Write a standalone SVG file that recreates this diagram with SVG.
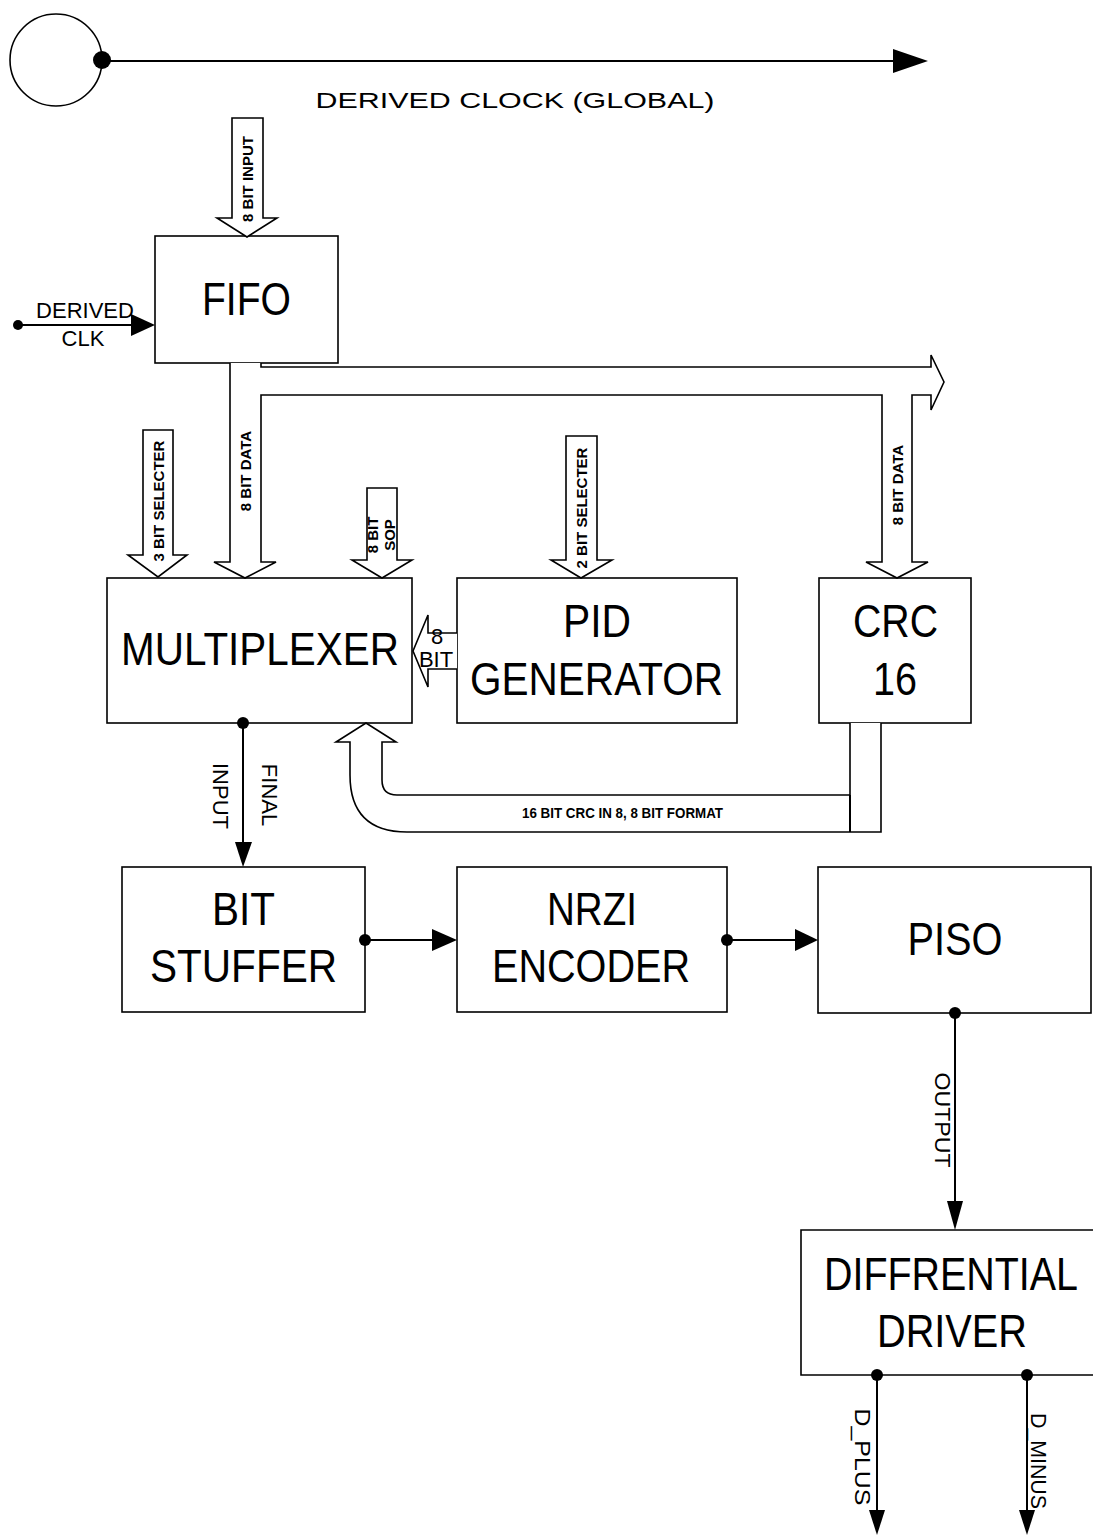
<svg xmlns="http://www.w3.org/2000/svg" width="1093" height="1536" viewBox="0 0 1093 1536">
<style>
.box{fill:#fff;stroke:#000;stroke-width:1.6}
.big{font-family:"Liberation Sans",Arial,sans-serif;font-size:47px;text-anchor:middle;fill:#000}
.sm{font-family:"Liberation Sans",Arial,sans-serif;font-size:15px;font-weight:bold;text-anchor:middle;fill:#000}
.md{font-family:"Liberation Sans",Arial,sans-serif;font-size:22px;text-anchor:middle;fill:#000}
.wire{fill:none;stroke:#000;stroke-width:2}
.bus{fill:#fff;stroke:#000;stroke-width:1.6;stroke-linejoin:miter}
.head{fill:#000}
.dot{fill:#000}
</style>
<rect width="1093" height="1536" fill="#fff"/>

<g id="clock-source">
  <circle cx="56" cy="60" r="46" fill="none" stroke="#000" stroke-width="1.6"/>
</g>

<g id="fifo">
  <rect class="box" x="155" y="236" width="183" height="127"/>
  <text class="big" x="246.5" y="315" textLength="89" lengthAdjust="spacingAndGlyphs">FIFO</text>
</g>

<g id="multiplexer">
  <rect class="box" x="107" y="578" width="305" height="145"/>
  <text class="big" x="260" y="665" textLength="278" lengthAdjust="spacingAndGlyphs">MULTIPLEXER</text>
</g>

<g id="pid-generator">
  <rect class="box" x="457" y="578" width="280" height="145"/>
  <text class="big" x="597" y="637" textLength="68" lengthAdjust="spacingAndGlyphs">PID</text>
  <text class="big" x="596.5" y="695" textLength="253" lengthAdjust="spacingAndGlyphs">GENERATOR</text>
</g>

<g id="crc16">
  <rect class="box" x="819" y="578" width="152" height="145"/>
  <text class="big" x="895.5" y="637" textLength="85" lengthAdjust="spacingAndGlyphs">CRC</text>
  <text class="big" x="895" y="695" textLength="44" lengthAdjust="spacingAndGlyphs">16</text>
</g>

<g id="bit-stuffer">
  <rect class="box" x="122" y="867" width="243" height="145"/>
  <text class="big" x="243.5" y="925" textLength="63" lengthAdjust="spacingAndGlyphs">BIT</text>
  <text class="big" x="243.5" y="982" textLength="187" lengthAdjust="spacingAndGlyphs">STUFFER</text>
</g>

<g id="nrzi-encoder">
  <rect class="box" x="457" y="867" width="270" height="145"/>
  <text class="big" x="592" y="925" textLength="90" lengthAdjust="spacingAndGlyphs">NRZI</text>
  <text class="big" x="591" y="982" textLength="198" lengthAdjust="spacingAndGlyphs">ENCODER</text>
</g>

<g id="piso">
  <rect class="box" x="818" y="867" width="273" height="146"/>
  <text class="big" x="955" y="955" textLength="95" lengthAdjust="spacingAndGlyphs">PISO</text>
</g>

<g id="differential-driver">
  <path class="box" d="M1093,1230 H801 V1375 H1093" fill="#fff"/>
  <text class="big" x="951" y="1290" font-size="49" textLength="254" lengthAdjust="spacingAndGlyphs">DIFFRENTIAL</text>
  <text class="big" x="952" y="1347" font-size="49" textLength="150" lengthAdjust="spacingAndGlyphs">DRIVER</text>
</g>

<g id="connectors">
  <!-- global derived clock -->
  <line class="wire" x1="102" y1="61" x2="895" y2="61" stroke-width="2.5"/>
  <circle class="dot" cx="102" cy="60" r="9"/>
  <polygon class="head" points="893,49 928,61 893,73"/>
  <text class="md" x="515" y="108" font-size="30" textLength="399" lengthAdjust="spacingAndGlyphs">DERIVED CLOCK (GLOBAL)</text>

  <!-- derived clk into FIFO -->
  <circle class="dot" cx="18" cy="325" r="5"/>
  <line class="wire" x1="18" y1="325" x2="133" y2="325"/>
  <polygon class="head" points="131,314 155,325 131,336"/>
  <text class="md" x="85" y="318" font-size="19">DERIVED</text>
  <text class="md" x="83" y="346" font-size="19">CLK</text>

  <!-- 8 bit input -->
  <path class="bus" d="M232,118 H263 V218 H277 L247,237 L217,218 H232 Z"/>
  <text class="sm" transform="translate(253,179) rotate(-90)">8 BIT INPUT</text>

  <!-- FIFO data bus to MUX, CRC and right -->
  <path class="bus" d="M230,363 V562 H214 L245,578 L276,562 H261 V395 H882 V562 H866 L897,578 L928,562 H912 V395 H931 V410 L944,382 L931,355 V367 H261 V363"/>
  <text class="sm" transform="translate(251,471) rotate(-90)">8 BIT DATA</text>
  <text class="sm" transform="translate(903,485) rotate(-90)">8 BIT DATA</text>

  <!-- 3 bit selecter -->
  <path class="bus" d="M143,430 H173 V555 H187 L158,577 L128,555 H143 Z"/>
  <text class="sm" transform="translate(164,501) rotate(-90)">3 BIT SELECTER</text>

  <!-- 8 bit SOP -->
  <path class="bus" d="M367,488 H397 V560 H412 L382,578 L352,560 H367 Z"/>
  <text class="sm" font-size="14" transform="translate(378,535) rotate(-90)">8 BIT</text>
  <text class="sm" font-size="14" transform="translate(395,535) rotate(-90)">SOP</text>

  <!-- 2 bit selecter -->
  <path class="bus" d="M566,436 H597 V560 H612 L581,578 L551,560 H566 Z"/>
  <text class="sm" transform="translate(587,508) rotate(-90)">2 BIT SELECTER</text>

  <!-- PID to MUX -->
  <path class="bus" d="M457,633 H428 V615 L413,651 L428,687 V669 H457"/>
  <text class="md" x="437" y="644" font-size="12">8</text>
  <text class="md" x="436" y="667" font-size="12">BIT</text>

  <!-- CRC feedback to MUX -->
  <path class="bus" d="M850,723 V795 H397 Q382,795 382,780 V742 H396 L366,723 L336,742 H350 V775 Q350,832 407,832 H881 V723"/>
  <line class="wire" x1="850" y1="795" x2="850" y2="832" stroke-width="1.6"/>
  <text class="sm" x="622.5" y="818" font-size="14" textLength="201" lengthAdjust="spacingAndGlyphs">16 BIT CRC IN 8, 8 BIT FORMAT</text>

  <!-- MUX to bit stuffer -->
  <circle class="dot" cx="243" cy="723" r="6"/>
  <line class="wire" x1="243" y1="723" x2="243" y2="845"/>
  <polygon class="head" points="235,842 252,842 243,867"/>
  <text class="md" transform="translate(262,795) rotate(90)">FINAL</text>
  <text class="md" transform="translate(213,796) rotate(90)">INPUT</text>

  <!-- bit stuffer to NRZI -->
  <circle class="dot" cx="365" cy="940" r="6"/>
  <line class="wire" x1="365" y1="940" x2="434" y2="940"/>
  <polygon class="head" points="432,929 457,940 432,951"/>

  <!-- NRZI to PISO -->
  <circle class="dot" cx="727" cy="940" r="6"/>
  <line class="wire" x1="727" y1="940" x2="797" y2="940"/>
  <polygon class="head" points="795,929 818,940 795,951"/>

  <!-- PISO to differential driver -->
  <circle class="dot" cx="955" cy="1013" r="6"/>
  <line class="wire" x1="955" y1="1013" x2="955" y2="1203"/>
  <polygon class="head" points="947,1201 963,1201 955,1230"/>
  <text class="md" font-size="23" transform="translate(935,1120) rotate(90)" textLength="95" lengthAdjust="spacingAndGlyphs">OUTPUT</text>

  <!-- outputs -->
  <circle class="dot" cx="877" cy="1375" r="6"/>
  <line class="wire" x1="877" y1="1375" x2="877" y2="1512"/>
  <polygon class="head" points="869,1510 885,1510 877,1535"/>
  <text class="md" font-size="23" transform="translate(855,1457) rotate(90)" textLength="97" lengthAdjust="spacingAndGlyphs">D_PLUS</text>

  <circle class="dot" cx="1027" cy="1375" r="6"/>
  <line class="wire" x1="1027" y1="1375" x2="1027" y2="1512"/>
  <polygon class="head" points="1019,1510 1035,1510 1027,1535"/>
  <text class="md" font-size="23" transform="translate(1031,1461) rotate(90)" textLength="96" lengthAdjust="spacingAndGlyphs">D_MINUS</text>
</g>
</svg>
